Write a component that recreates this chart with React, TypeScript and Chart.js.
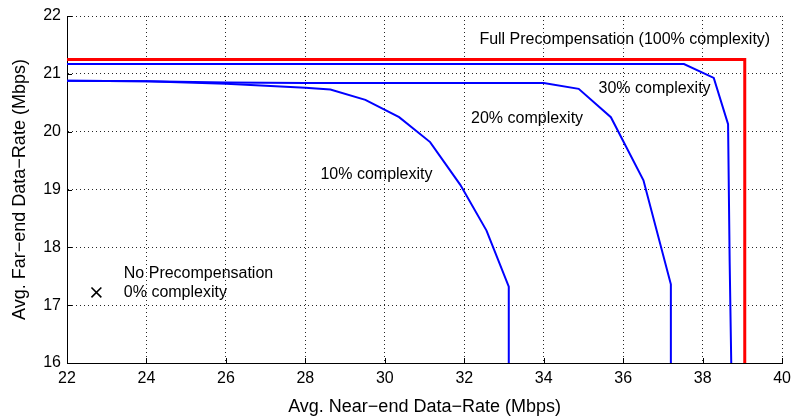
import React, { useEffect, useRef } from "react";
import { Chart, registerables } from "chart.js";

Chart.register(...registerables);

// ---- data (x: Avg. near-end rate, y: Avg. far-end rate, Mbps) ----
const fullX = [22, 39.06, 39.06];
const fullY = [21.25, 21.25, 16];

const c30X = [22, 37.53, 38.28, 38.64, 38.68, 38.72];
const c30Y = [21.17, 21.17, 20.93, 20.13, 17.75, 16];

const c20X = [22, 24, 26, 28, 34, 34.88, 35.69, 36.51, 37.2, 37.2];
const c20Y = [20.88, 20.87, 20.85, 20.84, 20.84, 20.74, 20.25, 19.16, 17.36, 16];

const c10X = [22, 24, 26, 28, 28.63, 29.51, 30.36, 31.14, 31.9, 32.56, 33.12, 33.12];
const c10Y = [20.88, 20.87, 20.83, 20.76, 20.73, 20.55, 20.25, 19.82, 19.08, 18.29, 17.32, 16];

const noPreX = [22.74];
const noPreY = [17.22];

const xTicks = [22, 24, 26, 28, 30, 32, 34, 36, 38, 40];
const yTicks = [16, 17, 18, 19, 20, 21, 22];

const noteTexts = [
  "Full Precompensation (100% complexity)",
  "30% complexity",
  "20% complexity",
  "10% complexity",
  "No Precompensation",
  "0% complexity",
];
const noteX = [32.38, 35.38, 32.17, 28.38, 23.43, 23.43];
const noteY = [21.6, 20.74, 20.22, 19.26, 17.55, 17.22];

const xTitle = "Avg. Near\u2212end Data\u2212Rate (Mbps)";
const yTitle = "Avg. Far\u2212end Data\u2212Rate (Mbps)";

const pts = (xs: number[], ys: number[]) => xs.map((x, i) => ({ x, y: ys[i] }));

const FONT = "'Liberation Sans', Arial, Helvetica, sans-serif";

const annotationPlugin = {
  id: "notes",
  afterDatasetsDraw(chart: any) {
    const { ctx, scales } = chart;
    const xs = scales.x;
    const ys = scales.y;
    ctx.save();
    ctx.font = `16px ${FONT}`;
    ctx.fillStyle = "#000";
    ctx.textAlign = "left";
    ctx.textBaseline = "middle";
    noteTexts.forEach((t, i) => {
      ctx.fillText(t, xs.getPixelForValue(noteX[i]), ys.getPixelForValue(noteY[i]));
    });
    ctx.restore();
  },
  afterDraw(chart: any) {
    // inward tick marks (MATLAB style)
    const { ctx, scales, chartArea } = chart;
    ctx.save();
    ctx.strokeStyle = "#000";
    ctx.lineWidth = 1;
    ctx.beginPath();
    xTicks.forEach((v) => {
      const px = Math.round(scales.x.getPixelForValue(v)) + 0.5;
      ctx.moveTo(px, chartArea.bottom);
      ctx.lineTo(px, chartArea.bottom - 5);
    });
    yTicks.forEach((v) => {
      const py = Math.round(scales.y.getPixelForValue(v)) + 0.5;
      ctx.moveTo(chartArea.left, py);
      ctx.lineTo(chartArea.left + 5, py);
    });
    ctx.stroke();
    ctx.restore();
  },
};

export default function App() {
  const ref = useRef<HTMLCanvasElement>(null);

  useEffect(() => {
    if (!ref.current) return;
    const blue = "#0000ff";
    const red = "#ff0000";
    const chart = new Chart(ref.current, {
      type: "scatter",
      data: {
        datasets: [
          {
            label: "10%",
            data: pts(c10X, c10Y),
            showLine: true,
            borderColor: blue,
            borderWidth: 2,
            pointRadius: 0,
            tension: 0,
          },
          {
            label: "20%",
            data: pts(c20X, c20Y),
            showLine: true,
            borderColor: blue,
            borderWidth: 2,
            pointRadius: 0,
            tension: 0,
          },
          {
            label: "30%",
            data: pts(c30X, c30Y),
            showLine: true,
            borderColor: blue,
            borderWidth: 2,
            pointRadius: 0,
            tension: 0,
          },
          {
            label: "100%",
            data: pts(fullX, fullY),
            showLine: true,
            borderColor: red,
            borderWidth: 3,
            pointRadius: 0,
            tension: 0,
          },
          {
            label: "0%",
            data: pts(noPreX, noPreY),
            showLine: false,
            pointStyle: "crossRot",
            pointRadius: 7,
            borderColor: "#000",
            backgroundColor: "#000",
            borderWidth: 1.6,
          },
        ],
      },
      options: {
        responsive: false,
        animation: false,
        layout: { padding: { top: 16, right: 12, left: 0, bottom: 0 } },
        plugins: {
          legend: { display: false },
          tooltip: { enabled: false },
        },
        scales: {
          x: {
            type: "linear",
            min: 22,
            max: 40,
            afterBuildTicks: (s: any) => {
              s.ticks = xTicks.map((v) => ({ value: v }));
            },
            afterFit: (s: any) => {
              s.height = 55;
            },
            ticks: {
              color: "#000",
              font: { size: 16, family: FONT },
              padding: 6,
              maxRotation: 0,
            },
            grid: {
              color: "rgba(0,0,0,0.85)",
              drawTicks: false,
              lineWidth: 1,
            },
            border: { display: true, color: "#000", width: 1, dash: [1, 3] },
            title: {
              display: true,
              text: xTitle,
              color: "#000",
              font: { size: 18, family: FONT },
              padding: { top: 0, bottom: 0 },
            },
          },
          y: {
            type: "linear",
            min: 16,
            max: 22,
            afterBuildTicks: (s: any) => {
              s.ticks = yTicks.map((v) => ({ value: v }));
            },
            afterFit: (s: any) => {
              s.width = 67;
            },
            ticks: {
              color: "#000",
              font: { size: 16, family: FONT },
              padding: 6,
            },
            grid: {
              color: "rgba(0,0,0,0.85)",
              drawTicks: false,
              lineWidth: 1,
            },
            border: { display: true, color: "#000", width: 1, dash: [1, 3] },
            title: {
              display: true,
              text: yTitle,
              color: "#000",
              font: { size: 18, family: FONT },
              padding: { top: 9, bottom: 0 },
            },
          },
        },
      },
      plugins: [annotationPlugin],
    });
    return () => chart.destroy();
  }, []);

  return (
    <div style={{ position: "absolute", left: 0, top: 0, width: 797, height: 418, background: "#fff" }}>
      <canvas ref={ref} width={797} height={418} style={{ display: "block" }} />
    </div>
  );
}
